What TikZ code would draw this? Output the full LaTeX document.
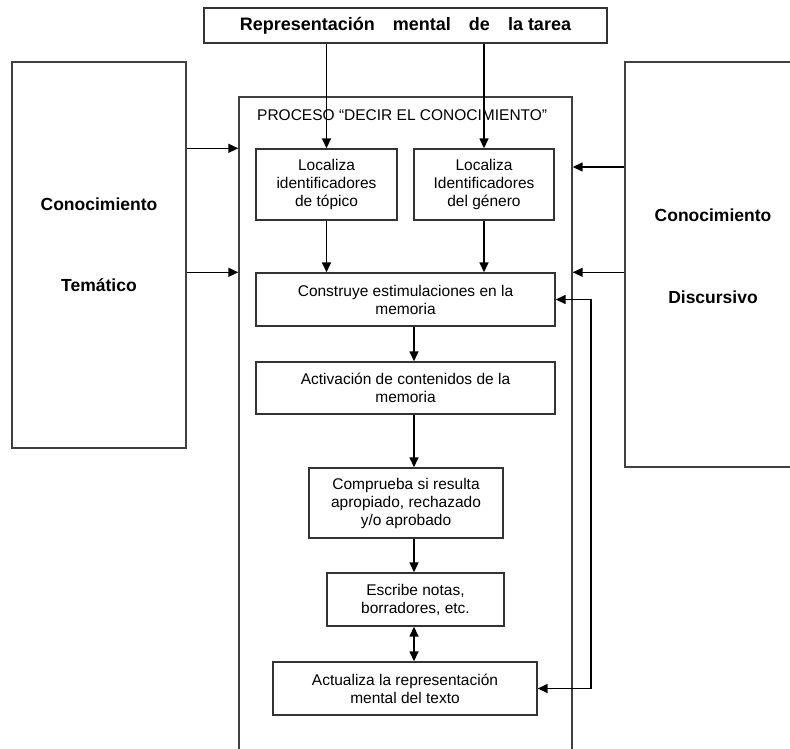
\documentclass[tikz,border=0pt]{standalone}
\usepackage{fontspec}
\setmainfont{Liberation Sans}
\usetikzlibrary{arrows.meta}
\begin{document}
\begin{tikzpicture}[x=1pt,y=-1pt,
  box/.style={draw=black!80,line width=1.4pt,align=center,inner sep=0pt,font=\fontsize{15.5}{18}\selectfont},
  bigbox/.style={draw=black!75,line width=1.4pt,inner sep=0pt},
  lbl/.style={font=\fontsize{17.5}{20}\selectfont\bfseries,inner sep=0pt},
  arr/.style={-{Triangle[length=10pt,width=9pt]},line width=1.5pt,black},
  darr/.style={{Triangle[length=10pt,width=9pt]}-{Triangle[length=10pt,width=9pt]},line width=1.5pt,black}]
\useasboundingbox (0,0) rectangle (790,749);
\clip (0,0) rectangle (790,749);
% big boxes
\node[bigbox,minimum width=174pt,minimum height=386pt] (tema) at (99,255) {};
\node[bigbox,minimum width=200pt,minimum height=405pt] (disc) at (725,264.5) {};
\node[bigbox,minimum width=333pt,minimum height=703pt] (proc) at (405.5,448.5) {};
\node[lbl] (t1) at (99,204) {Conocimiento};
\node[lbl] (t2) at (99,285) {Temático};
\node[lbl] (d1) at (713,215) {Conocimiento};
\node[lbl] (d2) at (713,297) {Discursivo};
\node[anchor=west,inner sep=0pt,font=\fontsize{15.5}{18}\selectfont] (title) at (257,115) {PROCESO “DECIR EL CONOCIMIENTO”};
% top
\node[box,minimum width=403pt,minimum height=35pt,font=\fontsize{18}{20}\selectfont\bfseries] (tarea) at (405.5,25.5) {Representación\hspace{18pt}mental\hspace{18pt}de\hspace{18pt}la tarea};
% inner boxes
\node[box,minimum width=141pt,minimum height=71pt] (loc1) at (326.5,184.5) {Localiza\\identificadores\\de tópico};
\node[box,minimum width=140pt,minimum height=71pt] (loc2) at (484,184.5) {Localiza\\Identificadores\\del género};
\node[box,minimum width=299pt,minimum height=53pt] (constr) at (405.5,299.5) {Construye estimulaciones en la\\memoria};
\node[box,minimum width=299pt,minimum height=52pt] (activ) at (405.5,388) {Activación de contenidos de la\\memoria};
\node[box,minimum width=194pt,minimum height=70pt] (compr) at (406,503) {Comprueba si resulta\\apropiado, rechazado\\y/o aprobado};
\node[box,minimum width=177pt,minimum height=53pt] (escr) at (415.5,599.5) {Escribe notas,\\borradores, etc.};
\node[box,minimum width=264pt,minimum height=53pt] (actual) at (405,688.5) {Actualiza la representación\\mental del texto};
% coordinates
\coordinate (ax) at (414,0);
\coordinate (r1) at (0,167);
\coordinate (l1) at (591,299.5);
\coordinate (l2) at (591,688.5);
% arrows
\draw[arr] (tarea.south -| loc1.north) -- (loc1.north);
\draw[arr] (tarea.south -| loc2.north) -- (loc2.north);
\draw[arr] (loc1.south) -- (constr.north -| loc1.south);
\draw[arr] (loc2.south) -- (constr.north -| loc2.south);
\draw[arr] (constr.south -| ax) -- (activ.north -| ax);
\draw[arr] (activ.south -| ax) -- (compr.north -| ax);
\draw[arr] (compr.south -| ax) -- (escr.north -| ax);
\draw[darr] (escr.south -| ax) -- (actual.north -| ax);
\draw[arr] (tema.east |- loc1.north) -- (proc.west |- loc1.north);
\draw[arr] (tema.east |- constr.north) -- (proc.west |- constr.north);
\draw[arr] (disc.west |- r1) -- (proc.east |- r1);
\draw[arr] (disc.west |- constr.north) -- (proc.east |- constr.north);
\draw[darr] (constr.east) -- (l1) -- (l2) -- (actual.east);
\end{tikzpicture}
\end{document}
